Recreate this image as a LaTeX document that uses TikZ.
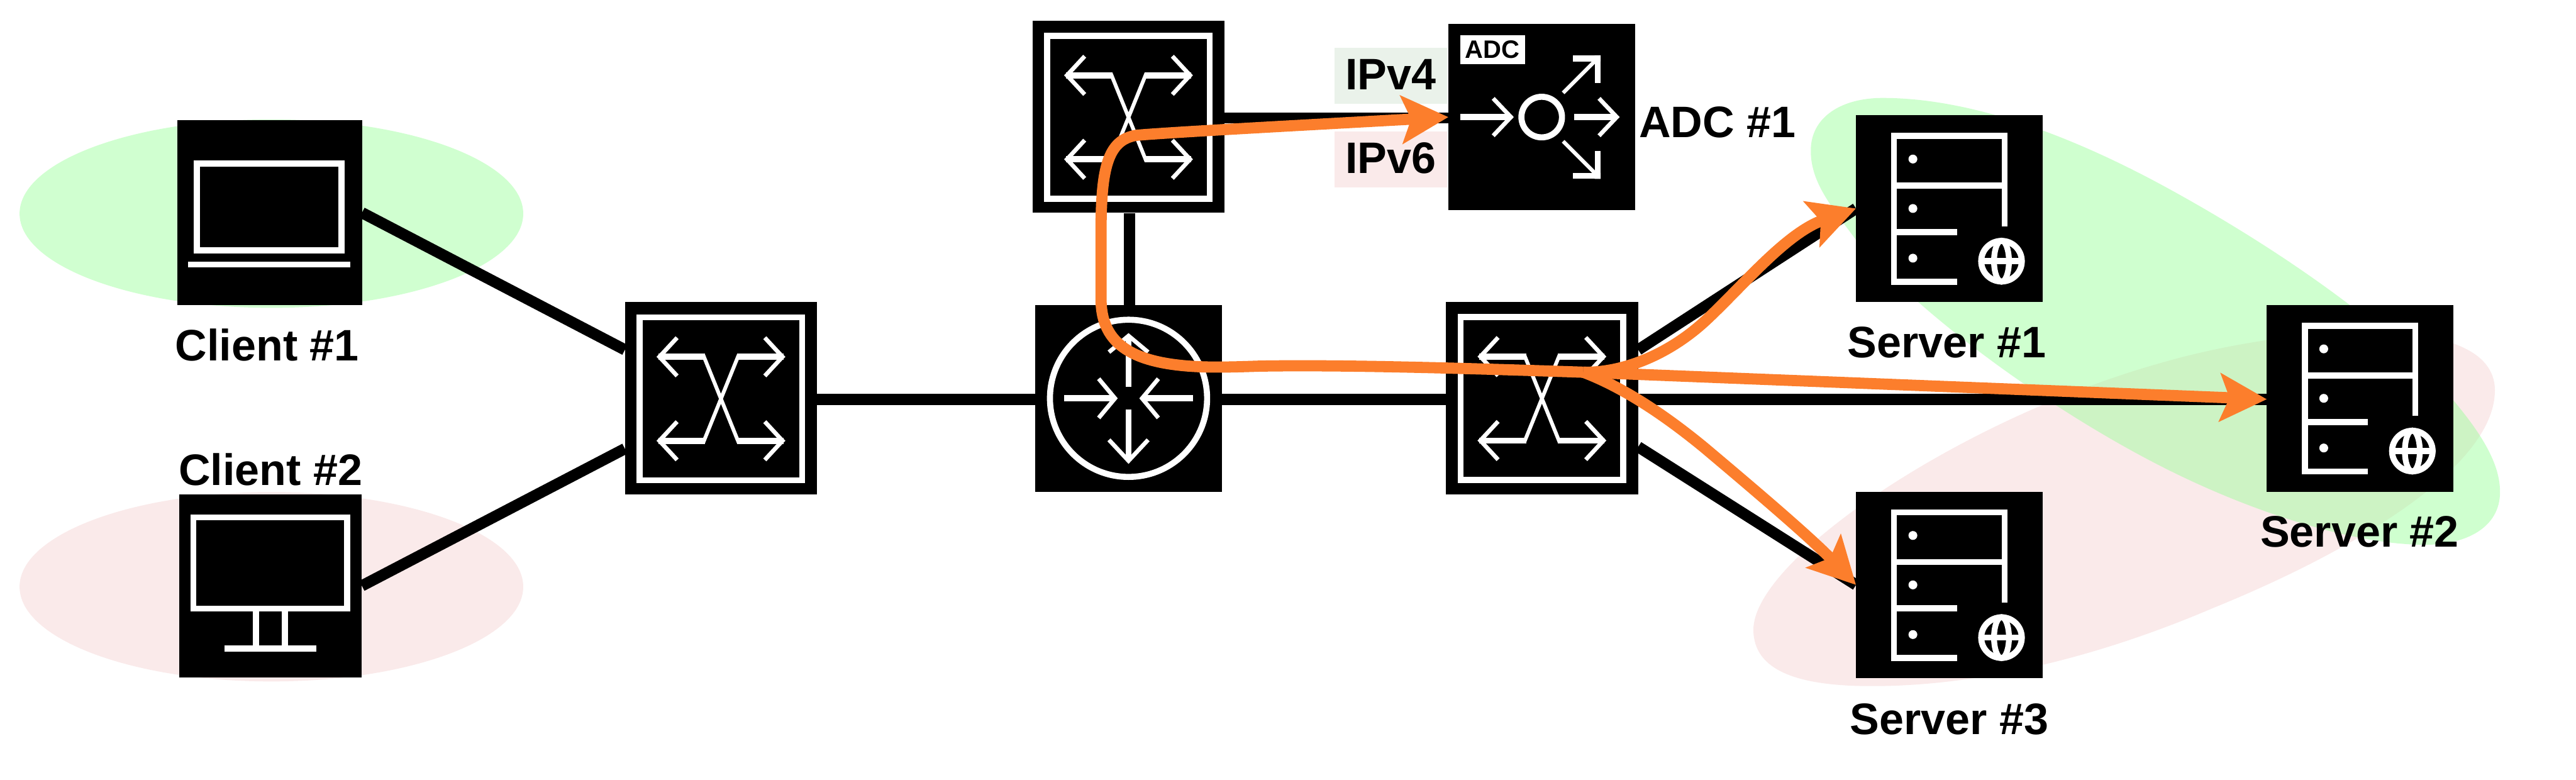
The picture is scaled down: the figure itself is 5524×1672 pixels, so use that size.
\documentclass[tikz,border=0pt]{standalone}
\usepackage{fontspec}
\setmainfont{Liberation Sans}
\usetikzlibrary{arrows.meta}
\definecolor{flowc}{HTML}{FC7E2C}
\definecolor{greenz}{HTML}{D0FFD0}
\definecolor{pinkz}{HTML}{FAEAEA}
\definecolor{palegreen}{HTML}{EAF2EA}
\definecolor{greenglass}{RGB}{146,255,146}
\tikzset{
  devbox/.style={fill=black,draw=none,inner sep=0pt,outer sep=0pt,minimum width=#1,minimum height=#1},
  lbl/.style={font=\bfseries\fontsize{94.5pt}{95pt}\selectfont,inner sep=0pt,outer sep=0pt,anchor=base},
  link/.style={draw=black,line width=24pt},
  flow/.style={draw=flowc,line width=24pt,-{Stealth[length=100pt,width=102pt,inset=20pt]}},
  wt/.style={draw=white,line width=13pt,miter limit=10},
  wthin/.style={draw=white,line width=9pt,miter limit=10},
  wdiag/.style={draw=white,line width=8pt},
  switchicon/.pic={
    \draw[wt] (31.5,32.5) rectangle (380,381.5);
    \draw[wt] (72,117) -- (172,117) (340,117) -- (240,117) (72,297) -- (172,297) (340,297) -- (240,297);
    \draw[wdiag] (168,113) -- (244,301) (244,113) -- (168,301);
    \draw[wthin] (112,76) -- (74,117) -- (112,158);
    \draw[wthin] (300,76) -- (338,117) -- (300,158);
    \draw[wthin] (112,256) -- (74,297) -- (112,338);
    \draw[wthin] (300,256) -- (338,297) -- (300,338);
  },
  routericon/.pic={
    \draw[wt] (200,200) circle[radius=168.5];
    \draw[wt] (200,68) -- (200,175) (200,224) -- (200,332) (62,200) -- (171,200) (338,200) -- (229,200);
    \draw[wthin] (158,101) -- (200,66) -- (242,101);
    \draw[wthin] (158,289) -- (200,334) -- (242,289);
    \draw[wthin] (136,158) -- (171,200) -- (136,242);
    \draw[wthin] (264,158) -- (229,200) -- (264,242);
  },
  servericon/.pic={
    \draw[wt] (318.5,238) -- (318.5,44.5) -- (81.5,44.5) -- (81.5,357) -- (217,357);
    \draw[wt] (81.5,151) -- (318.5,151) (81.5,250.5) -- (217,250.5);
    \fill[white] (122,94) circle[radius=9.5] (122,200) circle[radius=9.5] (122,306.5) circle[radius=9.5];
    \draw[wt] (312,313) circle[radius=43.5];
    \draw[draw=white,line width=12.5pt] (312,313) ellipse[x radius=16,y radius=44];
    \draw[wt] (269,313) -- (355,313);
  },
  laptopicon/.pic={
    \draw[wt] (42.5,93) rectangle (352.5,279);
    \draw[wt] (24,309.5) -- (371,309.5);
  },
  monitoricon/.pic={
    \draw[wt] (30.5,49) rectangle (360.5,245);
    \draw[wt] (165,245) -- (165,330) (227,245) -- (227,330);
    \draw[wt] (98,330.5) -- (294,330.5);
  },
  adcicon/.pic={
    \draw[wt] (25,200) -- (134,200) (270,200) -- (360,200);
    \draw[wthin] (96,160) -- (134,200) -- (96,240);
    \draw[wthin] (323,160) -- (361,200) -- (323,240);
    \draw[wt] (200,200) circle[radius=43.5];
    \draw[wt] (267,74) -- (320,74) (320,74) -- (320,127) (267,326) -- (320,326) (320,326) -- (320,273);
    \draw[wdiag] (320,74) -- (246,148) (320,326) -- (246,252);
    \fill[white] (313.5,67.5) rectangle (326.5,80.5) (313.5,319.5) rectangle (326.5,332.5);
  }
}
\begin{document}
\begin{tikzpicture}[x=1pt,y=-1pt]
\fill[white] (0,0) rectangle (5524,1672);
\useasboundingbox (0,0) rectangle (5524,1672);
% zones
\fill[greenz] (582,458) ellipse[x radius=540,y radius=202];
\fill[pinkz] (582,1258) ellipse[x radius=540,y radius=203];
\fill[pinkz] (3760,1350) .. controls (3760,1200) and (4200,900) .. (4631,779)
  .. controls (4900,700) and (5350,660) .. (5350,837)
  .. controls (5350,1000) and (5050,1180) .. (4747,1303)
  .. controls (4450,1430) and (4200,1471) .. (4014,1471)
  .. controls (3860,1471) and (3760,1440) .. (3760,1350) -- cycle;
\fill[greenglass,fill opacity=0.43] (3883,323) .. controls (3883,250) and (3950,210) .. (4037,210)
  .. controls (4200,210) and (4400,270) .. (4631,394)
  .. controls (4850,512) and (5120,690) .. (5259,856)
  .. controls (5330,940) and (5361,1000) .. (5361,1055)
  .. controls (5361,1130) and (5290,1168) .. (5200,1168)
  .. controls (5050,1168) and (4830,1100) .. (4631,998)
  .. controls (4400,880) and (4120,680) .. (3979,513)
  .. controls (3925,440) and (3883,390) .. (3883,323) -- cycle;
% address rectangles
\node[fill=palegreen,inner sep=0pt,minimum width=241pt,minimum height=120pt] (v4bg) at (2982.5,162) {};
\node[fill=pinkz,inner sep=0pt,minimum width=241pt,minimum height=120pt] (v6bg) at (2982.5,342) {};
% devices
\node[devbox=396.5pt] (c1) at (578,456) {};
\node[devbox=392pt] (c2) at (580,1256) {};
\node[devbox=412pt] (swl) at (1546,854) {};
\node[devbox=400pt] (rt) at (2420,854) {};
\node[devbox=412pt] (swt) at (2420,250.5) {};
\node[devbox=412pt] (swr) at (3306.5,853.5) {};
\node[devbox=400pt] (adc) at (3306,251) {};
\node[devbox=400pt] (sv1) at (4180,447) {};
\node[devbox=400pt] (sv2) at (5061,854) {};
\node[devbox=400pt] (sv3) at (4180,1254) {};
% connector free ends
\coordinate (swla) at (1340,750);
\coordinate (swlb) at (1340,962);
\coordinate (swlc) at (1752,856);
\coordinate (rtw) at (2220,856);
\coordinate (rte) at (2620,856);
\coordinate (swrw) at (3100,856);
\coordinate (swre) at (3513,856);
\coordinate (sv2w) at (4861,856);
\coordinate (swra) at (3513,750);
\coordinate (swrb) at (3513,958);
\coordinate (rtn) at (2422,654);
\coordinate (swts) at (2422,457);
\coordinate (swte) at (2626,253);
\coordinate (adcw) at (3106,253);
\coordinate (hub) at (3395,798);
\draw[link] (c1.east) -- (swla);
\draw[link] (c2.east) -- (swlb);
\draw[link] (swlc) -- (rtw);
\draw[link] (rte) -- (swrw);
\draw[link] (rtn) -- (swts);
\draw[link] (swte) -- (adcw);
\draw[link] (swra) -- (sv1.west);
\draw[link] (swre) -- (sv2w);
\draw[link] (swrb) -- (sv3.west);
% icons
\pic at (c1.north west) {laptopicon};
\pic at (c2.north west) {monitoricon};
\pic at (swl.north west) {switchicon};
\pic at (swt.north west) {switchicon};
\pic at (swr.north west) {switchicon};
\pic at (rt.north west) {routericon};
\pic at (adc.north west) {adcicon};
\pic at (sv1.north west) {servericon};
\pic at (sv2.north west) {servericon};
\pic at (sv3.north west) {servericon};
\node[fill=white,inner sep=0pt,minimum width=139pt,minimum height=62pt] (adctag) at (3200.5,107) {};
\node[inner sep=0pt,anchor=base,font=\bfseries\fontsize{54pt}{54pt}\selectfont] (adctxt) at (3200.5,125) {ADC};
% labels
\node[lbl] (lc1) at (573,774) {Client \#1};
\node[lbl] (lc2) at (580,1040.5) {Client \#2};
\node[lbl] (ls1) at (4175,767) {Server \#1};
\node[lbl] (ls2) at (5060,1173) {Server \#2};
\node[lbl] (ls3) at (4180,1574) {Server \#3};
\node[lbl,anchor=base west] (ladc) at (3515,295) {ADC \#1};
\node[lbl] (l4) at (2982,192) {IPv4};
\node[lbl] (l6) at (2982,372) {IPv6};
% flows
\draw[flow] (hub) .. controls (3100,788) and (2860,782) .. (2700,785) .. controls (2670,786) and (2640,787) .. (2610,787) .. controls (2430,787) and (2361,740) .. (2361,640) -- (2361,500) .. controls (2361,360) and (2375,300) .. (2437,290) .. controls (2520,283) and (2800,268) .. (adc.west);
\draw[flow] (hub) -- (sv2w);
\draw[flow] (hub) .. controls (3480,800) and (3580,760) .. (3660,685) .. controls (3740,610) and (3830,500) .. (sv1.west);
\draw[flow] (hub) .. controls (3480,830) and (3570,890) .. (3655,960) .. controls (3750,1040) and (3880,1150) .. (sv3.west);
\end{tikzpicture}
\end{document}
